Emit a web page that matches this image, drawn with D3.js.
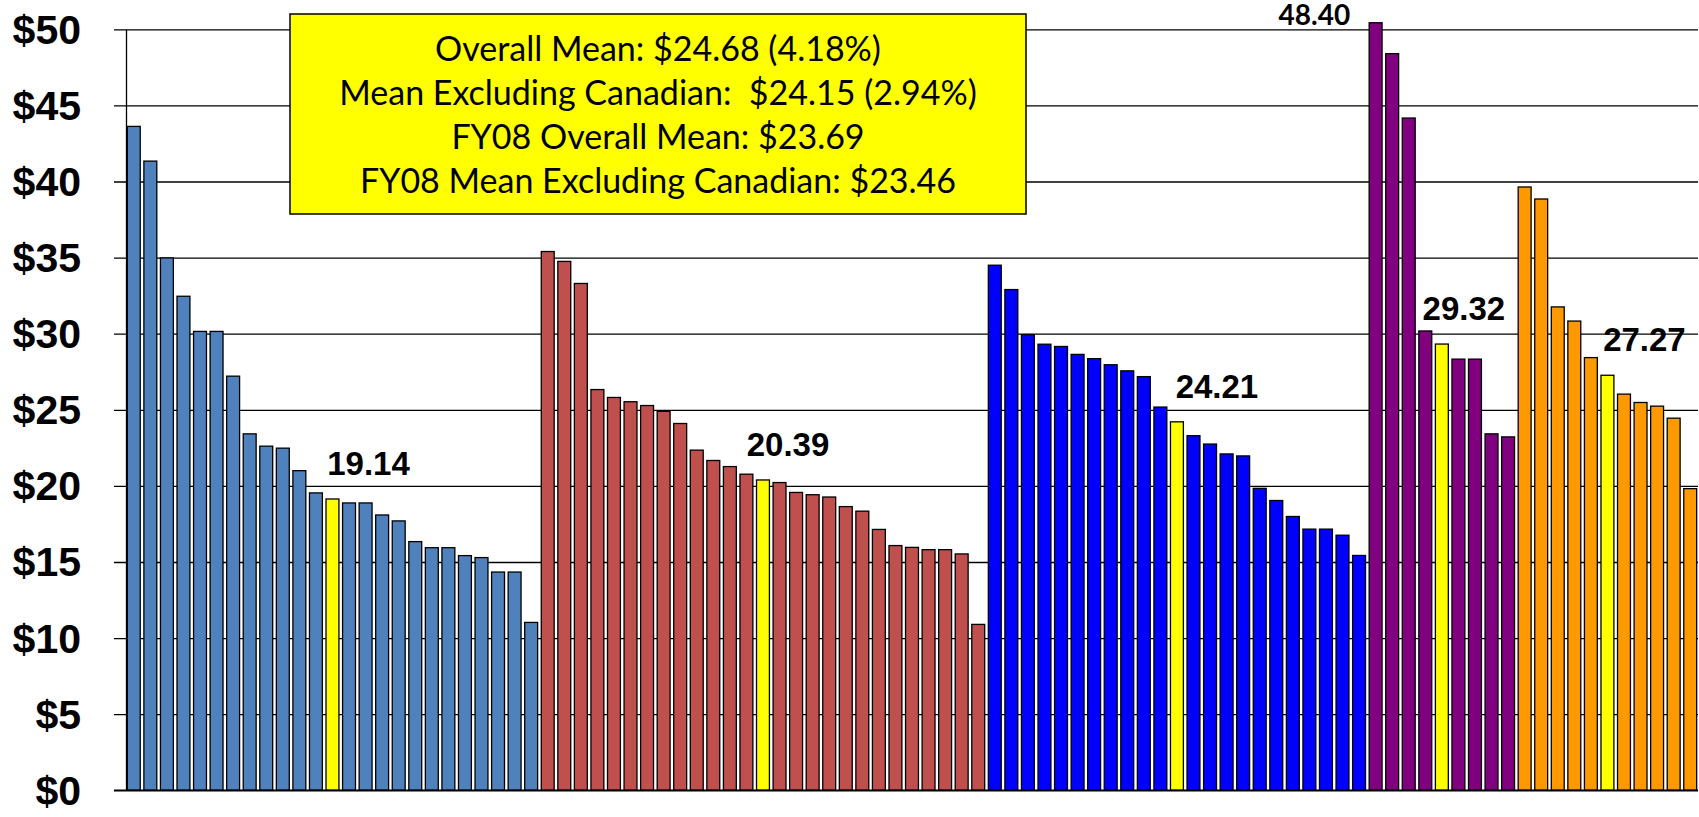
<!DOCTYPE html>
<html>
<head>
<meta charset="utf-8">
<script src="https://cdn.jsdelivr.net/npm/d3@7"></script>
<style>
  html, body { margin: 0; padding: 0; background: #fff; }
  svg { display: block; }
</style>
</head>
<body>
<div id="chart"></div>
<script>
// bar values per group, sorted high to low
var steelGroup = [43.62, 41.34, 34.98, 32.46, 30.15, 30.15, 27.21, 23.42, 22.61, 22.48, 21.00, 19.54, 19.14,
  18.88, 18.88, 18.09, 17.70, 16.34, 15.94, 15.94, 15.42, 15.29, 14.34, 14.34, 11.03];
var redGroup = [35.40, 34.75, 33.30, 26.33, 25.81, 25.53, 25.28, 24.90, 24.10, 22.35, 21.67, 21.27, 20.77, 20.39,
  20.22, 19.57, 19.42, 19.27, 18.64, 18.34, 17.14, 16.08, 15.96, 15.81, 15.81, 15.53, 10.90];
var blueGroup = [34.50, 32.90, 29.94, 29.31, 29.16, 28.64, 28.36, 27.96, 27.56, 27.18, 25.18, 24.21,
  23.30, 22.75, 22.10, 21.97, 19.84, 19.04, 17.99, 17.16, 17.16, 16.76, 15.43];
var purpleGroup = [50.43, 48.40, 44.17, 30.18, 29.32, 28.33, 28.33, 23.42, 23.22];
var orangeGroup = [39.64, 38.85, 31.76, 30.83, 28.43, 27.27, 26.03, 25.48, 25.24, 24.45, 19.82];

// the highlighted (yellow) bar of each group
var groupMeans = [19.14, 20.39, 24.21, 29.32, 27.27];

var yTicks = [0, 5, 10, 15, 20, 25, 30, 35, 40, 45, 50];

var boxLines = [
  "Overall Mean: $24.68 (4.18%)",
  "Mean Excluding Canadian:  $24.15 (2.94%)",
  "FY08 Overall Mean: $23.69",
  "FY08 Mean Excluding Canadian: $23.46"
];

var groups = [steelGroup, redGroup, blueGroup, purpleGroup, orangeGroup];
var groupColors = ["#4F81BD", "#C0504D", "#0000FF", "#800080", "#FF9900"];
var highlight = "#FFFF00";

// Dimensions
var width = 1699;
var height = 817;
var left = 126;
var right = 1698;

var bars = [];
groups.forEach(function(vals, g) {
  vals.forEach(function(v) {
    bars.push({ group: g, value: v, i: bars.length, mean: v === groupMeans[g] });
  });
});

var svg = d3.select("#chart").append("svg")
  .attr("width", width)
  .attr("height", height);

var x = d3.scaleBand()
  .domain(d3.range(bars.length))
  .range([left, right])
  .paddingInner(0.22)
  .paddingOuter(0.08);

var y = d3.scaleLinear()
  .domain([0, 50])
  .range([790.3, 29.3]);

// gridlines + labels
var yAxis = svg.append("g")
  .attr("class", "y-axis")
  .attr("transform", "translate(" + left + ",0)")
  .call(d3.axisLeft(y)
    .tickValues(yTicks)
    .tickSizeInner(-(right - left))
    .tickSizeOuter(0)
    .tickPadding(45)
    .tickFormat(function(d) { return "$" + d; }));

yAxis.select(".domain").attr("stroke", "#000").attr("stroke-width", 1.3);
yAxis.selectAll(".tick line")
  .attr("x1", -12)
  .attr("stroke", "#000")
  .attr("stroke-width", 1.3);
yAxis.selectAll(".tick text")
  .attr("fill", "#000")
  .attr("dy", "0.34em")
  .style("font-family", "'Liberation Sans', Arial, sans-serif")
  .style("font-weight", "bold")
  .style("font-size", "41px");

svg.append("g")
  .attr("class", "bars")
  .selectAll("rect")
  .data(bars)
  .enter()
  .append("rect")
  .attr("x", function(d) { return x(d.i); })
  .attr("y", function(d) { return y(d.value); })
  .attr("width", x.bandwidth())
  .attr("height", function(d) { return y(0) - y(d.value); })
  .attr("fill", function(d) { return d.mean ? highlight : groupColors[d.group]; })
  .attr("stroke", "#000")
  .attr("stroke-width", 1.3);

// baseline on top of the bars
svg.append("line")
  .attr("x1", left - 12)
  .attr("x2", right)
  .attr("y1", y(0))
  .attr("y2", y(0))
  .attr("stroke", "#000")
  .attr("stroke-width", 1.6);

// labels of the yellow bars (hand placed in the original, so nudged a bit)
var labelNudge = [36, 25, 40, 22, 37];
var meanBars = bars.filter(function(d) { return d.mean; });

svg.append("g")
  .selectAll("text")
  .data(meanBars)
  .enter()
  .append("text")
  .attr("x", function(d) { return x(d.i) + x.bandwidth() / 2 + labelNudge[d.group]; })
  .attr("y", function(d) { return y(d.value) - 24; })
  .attr("text-anchor", "middle")
  .style("font-family", "'Liberation Sans', Arial, sans-serif")
  .style("font-weight", "bold")
  .style("font-size", "33px")
  .text(function(d) { return d3.format(".2f")(d.value); });

// value of the second purple bar, written left of the group
var purpleStart = steelGroup.length + redGroup.length + blueGroup.length;
svg.append("text")
  .attr("x", x(purpleStart) - 19)
  .attr("y", y(50) - 4)
  .attr("text-anchor", "end")
  .style("font-family", "Lato, 'Open Sans', sans-serif")
  .style("font-weight", "bold")
  .style("font-size", "28px")
  .text(d3.format(".2f")(purpleGroup[1]));

// yellow summary box
var box = svg.append("g").attr("class", "summary");

box.append("rect")
  .attr("x", 290)
  .attr("y", 14)
  .attr("width", 736)
  .attr("height", 200)
  .attr("fill", highlight)
  .attr("stroke", "#000")
  .attr("stroke-width", 1.5);

box.selectAll("text")
  .data(boxLines)
  .enter()
  .append("text")
  .attr("x", 658)
  .attr("y", function(d, i) { return 61 + i * 44; })
  .attr("text-anchor", "middle")
  .attr("xml:space", "preserve")
  .style("white-space", "pre")
  .style("font-family", "Lato, 'Open Sans', sans-serif")
  .style("font-size", "34px")
  .text(function(d) { return d; });
</script>
</body>
</html>
